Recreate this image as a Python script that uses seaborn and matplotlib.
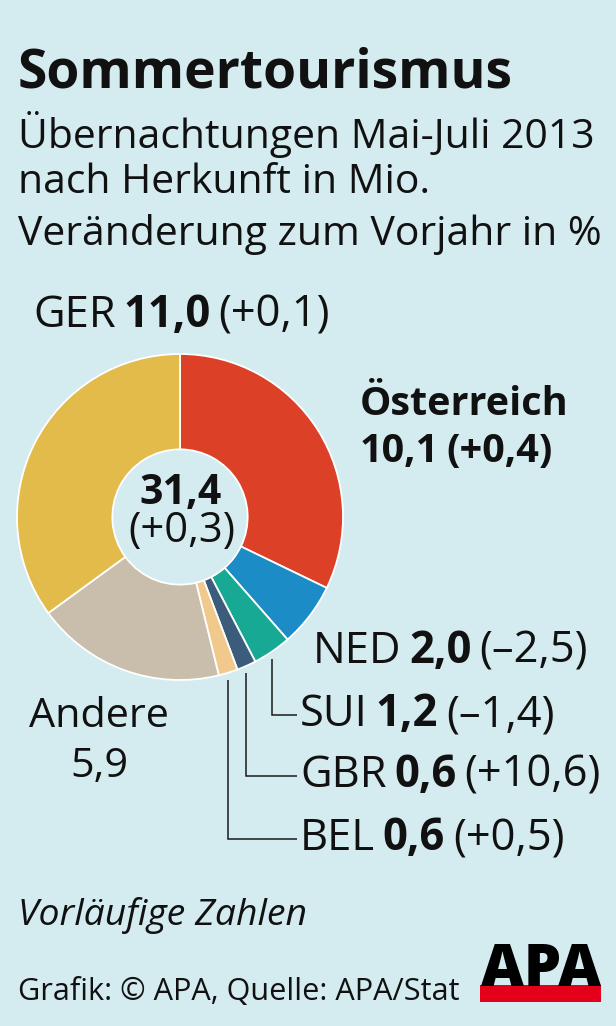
import numpy as np
import pandas as pd
import matplotlib
matplotlib.use("Agg")
import matplotlib.pyplot as plt
import seaborn as sns
from matplotlib.patches import Rectangle

# ---------------- data ----------------
countries = ["Österreich", "NED", "SUI", "GBR", "BEL", "Andere", "GER"]
values = [10.1, 2.0, 1.2, 0.6, 0.6, 5.9, 11.0]
values_txt = ["10,1", "2,0", "1,2", "0,6", "0,6", "5,9", "11,0"]
changes_txt = ["+0,4", "–2,5", "–1,4", "+10,6", "+0,5", "", "+0,1"]
total_txt = "31,4"
total_change_txt = "+0,3"
colors = ["#dc4127", "#1b8cc6", "#17a993", "#3b5c7a", "#f2c98c", "#c9bdab", "#e3bb4b"]

title = "Sommertourismus"
subtitle = ["Übernachtungen Mai-Juli 2013", "nach Herkunft in Mio.",
            "Veränderung zum Vorjahr in %"]
note = "Vorläufige Zahlen"
source = "Grafik: © APA, Quelle: APA/Stat"

df = pd.DataFrame({"country": countries, "value": values,
                   "vtxt": values_txt, "ctxt": changes_txt, "color": colors})

# ---------------- setup ----------------
W, H = 616, 1026
BG = "#d4ebef"
INK = "#111111"
sns.set_theme(style="white")
FONT = "Open Sans"
plt.rcParams["font.family"] = [FONT, "DejaVu Sans"]

fig = plt.figure(figsize=(W / 100, H / 100), dpi=100, facecolor=BG)
ax = fig.add_axes([0, 0, 1, 1])
ax.set_facecolor(BG)


def Y(y):
    return H - y


cx, cy, R = 180, 517, 163
ax.pie(df["value"], colors=df["color"], startangle=90, counterclock=False,
       radius=R, center=(cx, Y(cy)),
       wedgeprops=dict(width=R * 0.585, edgecolor="white", linewidth=1.3))
ax.set_xlim(0, W)
ax.set_ylim(0, H)
ax.set_aspect("equal")
ax.axis("off")

renderer = fig.canvas.get_renderer()
SPACE = 0.7


def tw(s, size, weight="normal", style="normal"):
    t = ax.text(0, 0, s, fontsize=size, fontweight=weight, fontstyle=style)
    w = t.get_window_extent(renderer).width
    t.remove()
    return w


def space_w(size):
    return (tw("n n", size) - tw("nn", size)) * SPACE


def rich_width(parts, size):
    w = sum(tw(s, size, wt, st) for s, wt, st in parts)
    return w + space_w(size) * (len(parts) - 1)


def fit(parts, target, base=20):
    return base * target / rich_width(parts, base)


def rich(x, ybase, parts, size, ha="left"):
    total = rich_width(parts, size)
    if ha == "center":
        x = x - total / 2
    sp = space_w(size)
    for s, wt, st in parts:
        ax.text(x, Y(ybase), s, fontsize=size, fontweight=wt, fontstyle=st,
                color=INK, ha="left", va="baseline")
        x += tw(s, size, wt, st) + sp


N, B, I = "normal", "bold", "italic"

# ---------------- header ----------------
ts = fit([(title, B, N)], 494)
rich(18, 88, [(title, B, N)], ts)
ss = fit([(subtitle[2], N, N)], 582)
for line, yb in zip(subtitle, [148, 193, 245]):
    rich(18, yb, [(line, N, N)], ss)

# ---------------- labels ----------------
def lab(i):
    r = df.iloc[i]
    return [(r["country"], N, N), (r["vtxt"], B, N), ("(" + r["ctxt"] + ")", N, N)]

ls = fit(lab(3), 302)
rich(33, 327, lab(6), ls)                                  # GER
rich(313, 663, lab(1), ls)                                 # NED
rich(300, 726, lab(2), ls)                                 # SUI
rich(300, 787, lab(3), ls)                                 # GBR
rich(300, 850, lab(4), ls)                                 # BEL

o_line2 = [(df.iloc[0]["vtxt"], B, N), ("(" + df.iloc[0]["ctxt"] + ")", B, N)]
o_line1 = [(df.iloc[0]["country"], B, N)]
osz = (fit(o_line2, 207) + fit(o_line1, 193)) / 2
rich(360, 415, o_line1, osz)
rich(360, 462, o_line2, osz)

rich(99, 727, [(df.iloc[5]["country"], N, N)], ls * 0.95, ha="center")
rich(99, 777, [(df.iloc[5]["vtxt"], N, N)], ls * 0.95, ha="center")

# centre
cs = fit([(total_txt, B, N)], 82)
rich(cx + 1, 504, [(total_txt, B, N)], cs, ha="center")
rich(cx + 2, 542, [("(" + total_change_txt + ")", N, N)],
     fit([("(" + total_change_txt + ")", N, N)], 107), ha="center")

# leader lines for small slices
cum = np.cumsum(df["value"].to_numpy())
tot = cum[-1]
label_base = {2: 726, 3: 787, 4: 850}
for i, yb in label_base.items():
    theta = np.deg2rad(360 * (cum[i] - df["value"].iloc[i] / 2) / tot)
    x0 = cx + R * np.sin(theta)
    y0 = cy - R * np.cos(theta) + 7
    yl = yb - 11
    ax.plot([x0, x0, 297], [Y(y0), Y(yl), Y(yl)], color="#1a1a1a", lw=1.1,
            solid_joinstyle="miter", solid_capstyle="butt")

# ---------------- footer ----------------
rich(18, 925, [(note, N, I)], fit([(note, N, I)], 290))
rich(18, 1000, [(source, N, N)], fit([(source, N, N)], 440))

ax.add_patch(Rectangle((480, Y(1002)), 121, 17, color="#e2001a", lw=0, zorder=3))
apas = fit([("APA", "heavy", N)], 120)
ax.text(481, Y(986), "APA", fontsize=apas, fontweight="heavy", color="black",
        ha="left", va="baseline", zorder=4)

fig.savefig("out.png", dpi=100, facecolor=BG)
